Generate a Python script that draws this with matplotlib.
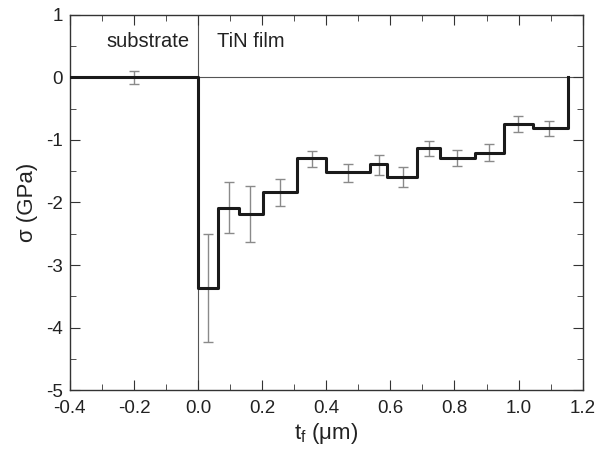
import numpy as np
import matplotlib.pyplot as plt
from matplotlib.ticker import MultipleLocator

plt.rcParams['font.family'] = ['Liberation Sans', 'DejaVu Sans']

# step edges (um) and stress per layer (GPa)
edges = [-0.4, 0.0, 0.062, 0.129, 0.202, 0.308, 0.398, 0.537, 0.589,
         0.683, 0.755, 0.864, 0.954, 1.045, 1.154]
sigma = [0.0, -3.37, -2.08, -2.18, -1.84, -1.29, -1.52, -1.39, -1.59,
         -1.13, -1.29, -1.21, -0.75, -0.81]

# error bars
err_x = [-0.2, 0.031, 0.098, 0.163, 0.255, 0.354, 0.468, 0.563, 0.639,
         0.721, 0.809, 0.909, 0.999, 1.096]
err_y = [0.0, -3.37, -2.08, -2.18, -1.84, -1.30, -1.53, -1.40, -1.59,
         -1.14, -1.29, -1.20, -0.75, -0.81]
err = [0.10, 0.86, 0.40, 0.45, 0.21, 0.13, 0.15, 0.16, 0.16,
       0.12, 0.13, 0.13, 0.13, 0.12]

fig = plt.figure(figsize=(5.97, 4.51), dpi=100)
ax = fig.add_axes([0.117, 0.135, 0.859, 0.832])

ax.axhline(0, color='#555555', lw=0.8, zorder=1)
ax.axvline(0, color='#555555', lw=0.8, zorder=1)

ax.errorbar(err_x, err_y, yerr=err, fmt='none', ecolor='#8a8a8a',
            elinewidth=1.0, capsize=3.5, capthick=1.0, zorder=2)

xs = edges
ys = sigma + [0.0]
ax.step(xs, ys, where='post', color='#1a1a1a', lw=2.2, zorder=3)

ax.text(-0.285, 0.57, 'substrate', fontsize=14.5, va='center', ha='left',
        color='#222222')
ax.text(0.06, 0.57, 'TiN film', fontsize=14.5, va='center', ha='left',
        color='#222222')

ax.set_xlim(-0.4, 1.2)
ax.set_ylim(-5, 1)
ax.xaxis.set_minor_locator(MultipleLocator(0.1))
ax.yaxis.set_minor_locator(MultipleLocator(0.5))
ax.set_xticks(np.arange(-0.4, 1.21, 0.2))
ax.set_xticklabels(['-0.4', '-0.2', '0.0', '0.2', '0.4', '0.6', '0.8', '1.0', '1.2'])
ax.set_yticks(range(-5, 2))
ax.set_yticklabels(['-5', '-4', '-3', '-2', '-1', '0', '1'])
ax.tick_params(which='both', direction='in', top=True, right=True,
               labelsize=13.5, color='#333333', labelcolor='#222222')
ax.tick_params(axis='x', which='major', pad=7)
ax.tick_params(axis='y', which='major', pad=5)
ax.tick_params(which='major', length=7)
ax.tick_params(which='minor', length=4)
for s in ax.spines.values():
    s.set_color('#333333')
    s.set_linewidth(1.0)

ax.set_xlabel('t$_\\mathregular{f}$ ($\\mathregular{\\mu}$m)', fontsize=16,
              labelpad=3, color='#222222')
ax.set_ylabel('σ (GPa)', fontsize=16, labelpad=6, color='#222222')

fig.savefig('out.png', dpi=100)
